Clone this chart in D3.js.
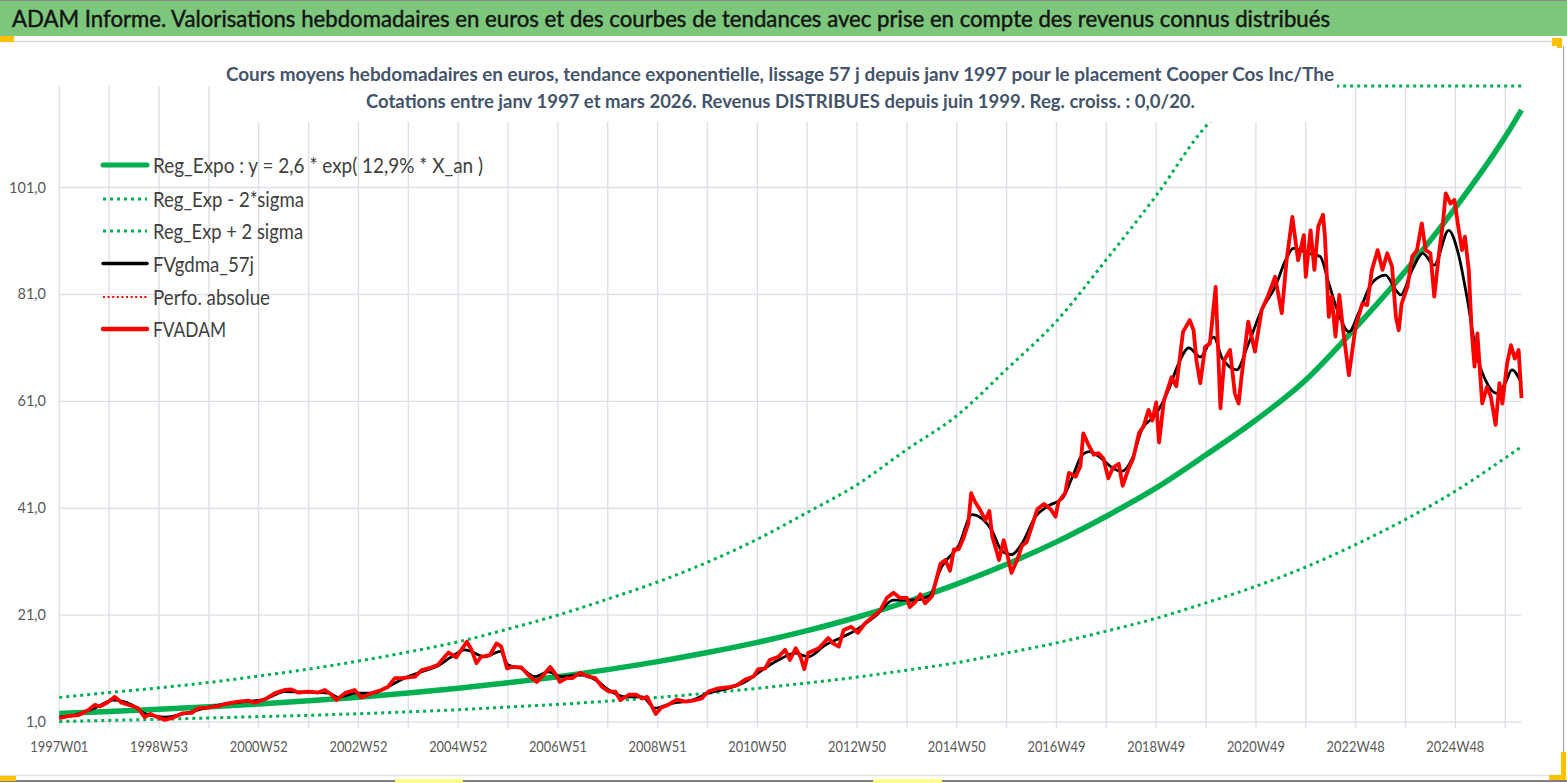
<!DOCTYPE html>
<html><head><meta charset="utf-8">
<script src="https://cdn.jsdelivr.net/npm/d3@7"></script>
<style>html,body{margin:0;padding:0;background:#fff;overflow:hidden}</style>
</head><body><svg id="c" width="1567" height="783"></svg>
<script>
// ---------------- DATA ----------------
const titleText = "ADAM Informe. Valorisations hebdomadaires en euros et des courbes de tendances avec prise en compte des revenus connus distribués";
const subtitleLines = [
  "Cours moyens hebdomadaires en euros, tendance exponentielle, lissage 57 j depuis janv 1997 pour le placement Cooper Cos Inc/The",
  "Cotations entre janv 1997 et mars 2026. Revenus DISTRIBUES depuis juin 1999. Reg. croiss. : 0,0/20."
];
const xTickLabels = ["1997W01","1998W53","2000W52","2002W52","2004W52","2006W51","2008W51","2010W50","2012W50","2014W50","2016W49","2018W49","2020W49","2022W48","2024W48"];
const weekCount = 1526;          // weekly categories 1997W01 .. 2026 (mars)
const labelEveryWeeks = 104;
const gridEveryWeeks = 52;
const yTicks = [1, 21, 41, 61, 81, 101];
const yMin = 1, yMax = 120;
const legendLabels = ["Reg_Expo : y = 2,6 * exp( 12,9% *  X_an )", "Reg_Exp - 2*sigma", "Reg_Exp + 2 sigma", "FVgdma_57j", "Perfo. absolue", "FVADAM"];

// trend curves read at yearly grid weeks
const trendWeeks = [0,52,104,156,208,260,312,364,416,468,520,572,624,676,728,780,832,884,936,988,1040,1092,1144,1196,1248,1300,1352,1404,1456,1508,1525];
const regExpo  = [2.6,2.96,3.37,3.84,4.36,4.97,5.65,6.43,7.32,8.33,9.48,10.8,12.3,14.0,15.9,18.1,20.6,23.5,26.8,30.5,34.7,39.5,44.8,51.0,57.5,65.0,74.8,85.4,97.2,110.5,115.5];
const regMinus = [1.1,1.3,1.5,1.75,2.0,2.25,2.55,2.9,3.3,3.8,4.3,4.9,5.6,6.4,7.3,8.3,9.4,10.7,12.1,13.9,15.8,18.0,20.4,23.3,26.4,30.0,34.2,38.9,44.2,50.4,52.5];
const regPlus  = [5.6,6.5,7.4,8.4,9.6,10.9,12.4,14.1,16.0,18.4,21.0,24.0,27.2,30.9,35.2,40.2,45.4,52.0,58.3,67.0,76.0,87.5,99.5,112.5,128,145,166,189,215,244,254];

// FVgdma_57j (smoothed)
const fvgdmaWeeks  = [0,16,37,56,76,89,110,131,152,173,194,215,235,260,281,291,309,326,343,361,378,395,409,423,444,460,468,482,496,510,524,541,559,573,590,608,621,639,660,677,698,715,733,750,768,781,799,818,830,851,870,889,907,920,938,952,962,973,983,993,1004,1018,1032,1046,1056,1067,1074,1087,1098,1108,1119,1129,1143,1157,1167,1178,1190,1204,1213,1228,1239,1254,1268,1279,1287,1303,1315,1324,1334,1345,1355,1369,1383,1394,1399,1411,1422,1434,1449,1459,1468,1478,1489,1499,1508,1515,1525];
const fvgdmaValues = [1.9,2.3,3.6,5.1,4.2,2.6,1.9,2.6,3.6,4.4,4.8,5.3,6.7,6.6,6.4,5.6,6.4,6.4,7.6,9.3,10.4,11.5,13.2,14.5,13.2,14.2,11.7,11.0,9.5,10.4,9.5,9.8,8.9,7.0,5.7,5.7,3.6,4.5,5.1,6.4,7.3,8.5,10.7,12.6,13.9,13.2,15.4,17.0,18.1,20.8,23.8,23.8,24.5,30.0,34.0,39.8,39.1,36.7,33.0,32.3,34.4,39.4,41.5,42.8,46.6,51.0,51.6,50.3,48.6,47.9,50.3,55.7,58.4,63.2,67.9,71.0,69.3,73.0,69.0,66.9,71.2,78.1,82.4,87.4,89.6,88.7,88.1,83.1,77.5,74.0,77.5,83.1,84.6,81.8,80.9,85.6,88.7,86.5,93.0,88.7,80.6,70.0,64.4,62.5,64.4,66.9,64.4];

// FVADAM weekly valuation
const fvadamWeeks  = [0,9,20,30,37,42,49,58,65,76,82,89,95,100,110,117,128,138,145,155,166,173,187,197,204,215,225,235,242,249,260,270,277,284,289,298,308,315,326,336,343,350,357,371,378,388,395,402,406,414,425,430,435,440,449,456,461,467,472,482,489,498,505,512,517,522,529,535,543,552,559,566,573,580,585,594,602,608,613,618,622,628,635,644,653,661,670,677,687,698,707,715,724,729,736,741,750,757,762,768,773,777,781,792,802,807,813,818,826,833,840,847,856,863,870,877,884,887,893,898,903,910,914,919,924,929,933,938,943,948,951,955,960,966,970,973,978,980,985,990,993,999,1004,1009,1014,1020,1027,1034,1039,1042,1049,1053,1060,1065,1068,1073,1079,1084,1089,1094,1099,1105,1109,1115,1120,1126,1131,1136,1140,1144,1147,1152,1157,1160,1165,1169,1172,1179,1183,1186,1190,1195,1200,1206,1211,1215,1221,1226,1230,1233,1240,1247,1254,1261,1268,1275,1280,1286,1292,1298,1300,1305,1309,1313,1318,1320,1324,1327,1331,1335,1339,1345,1352,1359,1364,1369,1375,1380,1385,1390,1394,1397,1400,1406,1411,1416,1421,1425,1430,1434,1439,1443,1446,1451,1455,1459,1463,1466,1470,1473,1476,1479,1484,1489,1493,1498,1502,1505,1510,1514,1518,1522,1525];
const fvadamValues = [1.7,2.1,2.3,3.2,4.2,3.9,4.5,5.7,4.6,4.0,3.6,1.9,2.5,2.1,1.4,1.7,2.6,2.7,3.6,3.7,4.0,4.4,4.8,5.0,4.6,5.3,6.4,7.0,7.1,6.5,6.7,6.5,7.0,6.1,5.1,6.4,7.0,5.6,6.4,7.0,7.6,9.2,9.2,9.5,10.7,11.2,11.7,13.2,14.0,13.1,16.0,14.5,12.0,13.2,13.5,15.7,15.1,11.0,11.3,11.2,9.8,8.5,9.8,11.3,10.1,8.5,9.2,9.2,10.2,9.5,9.2,7.6,6.7,6.7,5.1,6.1,6.1,5.4,5.7,3.9,2.5,3.7,4.2,5.2,4.8,5.0,5.4,6.7,7.3,7.5,7.9,8.9,9.5,10.9,11.0,12.6,13.2,14.5,12.6,14.8,13.2,10.9,13.9,14.8,16.7,15.7,15.1,18.2,18.8,17.7,19.4,20.5,21.8,24.2,25.2,24.2,24.2,22.5,23.5,24.9,23.2,24.5,27.2,30.6,31.3,29.3,33.3,33.3,35.4,38.1,43.8,42.2,40.8,38.8,40.5,35.7,32.7,31.3,35.0,31.3,28.9,31.3,34.0,34.7,37.4,40.8,41.8,40.8,39.4,42.2,43.8,47.6,46.9,48.9,55.0,53.0,51.0,51.3,50.3,46.6,48.6,49.3,45.2,48.3,50.3,55.0,56.4,59.4,57.4,60.8,53.3,61.1,63.8,65.5,63.8,69.6,74.0,76.2,74.3,68.6,64.4,71.2,71.8,82.4,59.7,68.7,70.6,62.5,60.6,65.6,75.9,70.3,78.1,80.9,84.3,77.5,87.4,95.5,87.4,92.1,84.3,93.0,85.6,93.7,95.9,91.8,76.8,80.6,73.1,80.9,74.3,65.9,75.0,79.3,79.0,85.6,89.3,85.6,88.7,86.2,76.8,74.3,79.3,82.4,88.1,89.3,94.3,89.3,88.7,80.6,88.7,94.3,99.9,98.0,98.7,93.7,89.3,91.8,85.6,74.3,67.5,73.7,60.6,63.7,61.9,56.6,64.4,60.6,68.1,71.5,69.0,70.6,61.6];

// ---------------- DRAW ----------------
const svg = d3.select("#c");
const FONT = "Lato, 'Open Sans', 'DejaVu Sans', sans-serif";
const GREEN = "#00B050", RED = "#FF0000", GRID = "#dde1e7";
const DOTS = "3 4";

const x = d3.scaleLinear().domain([0, weekCount - 1]).range([59.3, 1521.5]);
const y = d3.scaleLinear().domain([yMin, yMax]).range([722, 86]).clamp(true);

svg.append("rect").attr("width", 1567).attr("height", 783).attr("fill", "#fff");

// title bar
svg.append("rect").attr("x", 0).attr("y", 0).attr("width", 1567).attr("height", 36).attr("fill", "#7cc77c");
svg.append("line").attr("x1", 0).attr("x2", 1567).attr("y1", 0.5).attr("y2", 0.5).attr("stroke", "#8a8a8a");
svg.append("text").attr("x", 12).attr("y", 27).attr("font-family", FONT).attr("font-size", 23)
  .attr("fill", "#141414").attr("stroke", "#141414").attr("stroke-width", 0.45)
  .attr("textLength", 1318).attr("lengthAdjust", "spacingAndGlyphs").text(titleText);
// chart area borders / handles
svg.append("line").attr("x1", 0).attr("x2", 1563).attr("y1", 41.5).attr("y2", 41.5).attr("stroke", "#d9d9d9").attr("stroke-width", 1.5);
svg.append("line").attr("x1", 1563.5).attr("x2", 1563.5).attr("y1", 46).attr("y2", 752).attr("stroke", "#a6a6a6").attr("stroke-width", 1.2);
svg.append("line").attr("x1", 0).attr("x2", 1560).attr("y1", 775.5).attr("y2", 775.5).attr("stroke", "#e3e3e3").attr("stroke-width", 1.5);
svg.append("line").attr("x1", 0).attr("x2", 1567).attr("y1", 781).attr("y2", 781).attr("stroke", "#7f7f7f").attr("stroke-width", 2);
[[0,36,14,6],[1552,38,6,8],[1557,38,5,10],[0,776,16,5],[1561,752,5,28],[1549,775,17,5]].forEach(r =>
  svg.append("rect").attr("x", r[0]).attr("y", r[1]).attr("width", r[2]).attr("height", r[3]).attr("fill", "#ffc000"));
[[395,779,68,4],[873,779,69,4]].forEach(r =>
  svg.append("rect").attr("x", r[0]).attr("y", r[1]).attr("width", r[2]).attr("height", r[3]).attr("fill", "#ffff8a"));

// grid
const gridG = svg.append("g");
yTicks.forEach(t => gridG.append("line").attr("x1", x(0)).attr("x2", x(weekCount - 1))
  .attr("y1", y(t)).attr("y2", y(t)).attr("stroke", GRID).attr("stroke-width", 1.4));
d3.range(0, weekCount, gridEveryWeeks).forEach(w => gridG.append("line").attr("x1", x(w)).attr("x2", x(w))
  .attr("y1", y(yMax)).attr("y2", y(yMin) + 6).attr("stroke", GRID).attr("stroke-width", 1.4));

// axis labels
yTicks.forEach(t => svg.append("text").attr("x", 46).attr("y", y(t) + 5).attr("text-anchor", "end")
  .attr("font-family", FONT).attr("font-size", 14.5).attr("fill", "#595959").text(d3.format(".1f")(t).replace(".", ",")));
xTickLabels.forEach((lab, i) => svg.append("text").attr("x", x(i * labelEveryWeeks)).attr("y", 752)
  .attr("text-anchor", "middle").attr("font-family", FONT).attr("font-size", 15.5).attr("fill", "#595959")
  .attr("textLength", 58).attr("lengthAdjust", "spacingAndGlyphs").text(lab));

// series
const trendLine = d3.line().x((d, i) => x(trendWeeks[i])).y(d => y(d)).curve(d3.curveMonotoneX);
const plotG = svg.append("g");
plotG.append("path").attr("d", trendLine(regExpo)).attr("fill", "none").attr("stroke", GREEN).attr("stroke-width", 5.5);
plotG.append("path").attr("d", trendLine(regMinus)).attr("fill", "none").attr("stroke", GREEN).attr("stroke-width", 3).attr("stroke-dasharray", DOTS);
plotG.append("path").attr("d", trendLine(regPlus)).attr("fill", "none").attr("stroke", GREEN).attr("stroke-width", 3).attr("stroke-dasharray", DOTS);
const gLine = d3.line().x((d, i) => x(fvgdmaWeeks[i])).y(d => y(d)).curve(d3.curveMonotoneX);
plotG.append("path").attr("d", gLine(fvgdmaValues)).attr("fill", "none").attr("stroke", "#000").attr("stroke-width", 2.8).attr("stroke-linejoin", "round");
const aLine = d3.line().x((d, i) => x(fvadamWeeks[i])).y(d => y(d));
plotG.append("path").attr("d", aLine(fvadamValues)).attr("fill", "none").attr("stroke", RED).attr("stroke-width", 3.8).attr("stroke-linejoin", "round");

// legend
const legendStyles = [
  {c: GREEN, w: 5, dash: null}, {c: GREEN, w: 3, dash: DOTS}, {c: GREEN, w: 3, dash: DOTS},
  {c: "#000", w: 3.5, dash: null}, {c: RED, w: 2.2, dash: "2 2.6"}, {c: RED, w: 4.5, dash: null}];
const legendY = [165, 199, 231, 263.5, 297, 329];
const legendW = [330, 151, 150, 101, 117, 73];
legendLabels.forEach((lab, i) => {
  const st = legendStyles[i];
  const ln = svg.append("line").attr("x1", 103).attr("x2", 147).attr("y1", legendY[i]).attr("y2", legendY[i])
    .attr("stroke", st.c).attr("stroke-width", st.w).attr("stroke-linecap", st.dash ? "butt" : "round");
  if (st.dash) ln.attr("stroke-dasharray", st.dash);
  svg.append("text").attr("x", 153).attr("y", legendY[i] + 8).attr("font-family", FONT).attr("font-size", 22)
    .attr("fill", "#404040").attr("textLength", legendW[i]).attr("lengthAdjust", "spacingAndGlyphs").text(lab);
});

// subtitle box
svg.append("rect").attr("x", 218).attr("y", 54).attr("width", 1119).attr("height", 68).attr("fill", "#fff");
svg.append("text").attr("x", 226).attr("y", 80.5).attr("font-family", FONT).attr("font-size", 19.5).attr("font-weight", "bold")
  .attr("fill", "#44546a").attr("textLength", 1108).attr("lengthAdjust", "spacingAndGlyphs").text(subtitleLines[0]);
svg.append("text").attr("x", 366).attr("y", 108).attr("font-family", FONT).attr("font-size", 19.5).attr("font-weight", "bold")
  .attr("fill", "#44546a").attr("textLength", 829).attr("lengthAdjust", "spacingAndGlyphs").text(subtitleLines[1]);
</script></body></html>
